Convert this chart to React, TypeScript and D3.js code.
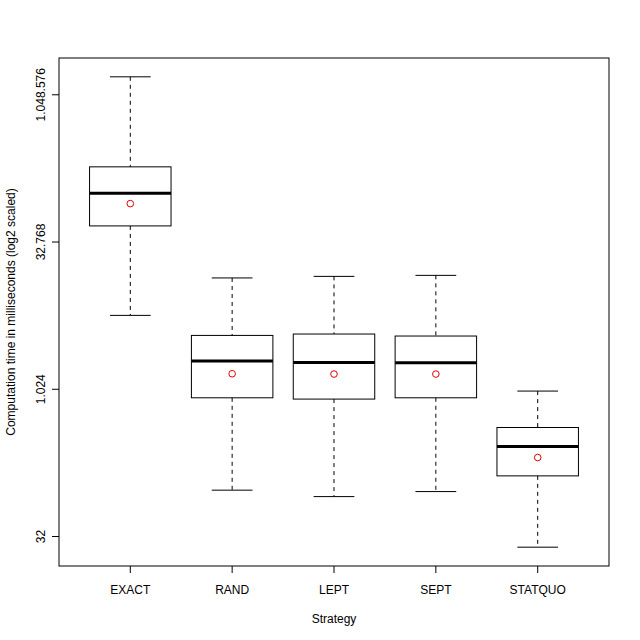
import React from "react";
import * as d3 from "d3";

const categories = ["EXACT", "RAND", "LEPT", "SEPT", "STATQUO"];
const whiskerLow = [5830, 95.3, 81.9, 92.2, 24.9];
const q1 = [47880, 838, 813, 838, 133.4];
const median = [103200, 1991, 1926, 1912, 266.1];
const q3 = [192300, 3638, 3759, 3586, 416.5];
const whiskerHigh = [1600400, 14070, 14600, 14950, 981.6];
const means = [80970, 1476, 1465, 1465, 205.4];
const yTicks = [32, 1024, 32768, 1048576];

const W = 640;
const H = 640;
const left = 59;
const right = 609;
const top = 58;
const bottom = 566;

export default function App() {
  const lo = Math.log2(d3.min(whiskerLow) as number);
  const hi = Math.log2(d3.max(whiskerHigh) as number);
  const pad = (hi - lo) * 0.04;
  const y = d3
    .scaleLog()
    .base(2)
    .domain([Math.pow(2, lo - pad), Math.pow(2, hi + pad)])
    .range([bottom, top]);
  const x = d3.scaleLinear().domain([0.3, categories.length + 0.7]).range([left, right]);
  const unit = x(1) - x(0);
  const boxW = unit * 0.8;
  const stapleW = unit * 0.4;
  const fmt = d3
    .formatLocale({ decimal: ",", thousands: ".", grouping: [3], currency: ["", ""] })
    .format(",d");
  const font = "Liberation Sans, Arial, Helvetica, sans-serif";

  return (
    <svg
      width={W}
      height={H}
      style={{ position: "absolute", left: 0, top: 0, background: "#fff" }}
      fontFamily={font}
    >
      <rect x={0} y={0} width={W} height={H} fill="#fff" />
      {categories.map((c, i) => {
        const cx = x(i + 1);
        return (
          <g key={c}>
            <line x1={cx} x2={cx} y1={y(whiskerHigh[i])} y2={y(q3[i])} stroke="#000" strokeDasharray="4,4" />
            <line x1={cx} x2={cx} y1={y(q1[i])} y2={y(whiskerLow[i])} stroke="#000" strokeDasharray="4,4" />
            <line x1={cx - stapleW / 2} x2={cx + stapleW / 2} y1={y(whiskerHigh[i])} y2={y(whiskerHigh[i])} stroke="#000" />
            <line x1={cx - stapleW / 2} x2={cx + stapleW / 2} y1={y(whiskerLow[i])} y2={y(whiskerLow[i])} stroke="#000" />
            <rect
              x={cx - boxW / 2}
              y={y(q3[i])}
              width={boxW}
              height={y(q1[i]) - y(q3[i])}
              fill="none"
              stroke="#000"
            />
            <line x1={cx - boxW / 2} x2={cx + boxW / 2} y1={y(median[i])} y2={y(median[i])} stroke="#000" strokeWidth={3} />
            <circle cx={cx} cy={y(means[i])} r={3.3} fill="none" stroke="#e00000" strokeWidth={1} />
          </g>
        );
      })}
      <rect x={left} y={top} width={right - left} height={bottom - top} fill="none" stroke="#000" />
      {yTicks.map((t) => (
        <g key={t}>
          <line x1={left - 7} x2={left} y1={y(t)} y2={y(t)} stroke="#000" />
          <text
            transform={`translate(45,${y(t)}) rotate(-90)`}
            textAnchor="middle"
            fontSize={12}
            fill="#000"
          >
            {fmt(t)}
          </text>
        </g>
      ))}
      {categories.map((c, i) => (
        <g key={c}>
          <line x1={x(i + 1)} x2={x(i + 1)} y1={bottom} y2={bottom + 7} stroke="#000" />
          <text x={x(i + 1)} y={594} textAnchor="middle" fontSize={12} fill="#000">
            {c}
          </text>
        </g>
      ))}
      <text x={(left + right) / 2} y={623} textAnchor="middle" fontSize={12} fill="#000">
        Strategy
      </text>
      <text
        transform={`translate(15,${(top + bottom) / 2}) rotate(-90)`}
        textAnchor="middle"
        fontSize={12}
        fill="#000"
      >
        Computation time in milliseconds (log2 scaled)
      </text>
    </svg>
  );
}
